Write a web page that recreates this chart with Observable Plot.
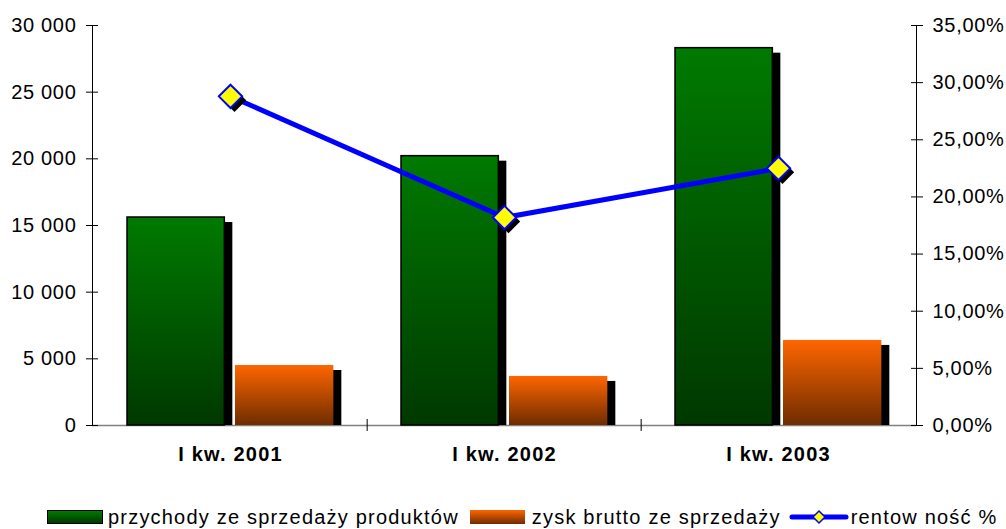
<!DOCTYPE html>
<html><head><meta charset="utf-8">
<script src="https://cdn.jsdelivr.net/npm/d3@7"></script>
<script src="https://cdn.jsdelivr.net/npm/@observablehq/plot@0.6"></script>
<style>
html,body{margin:0;padding:0;background:#fff;}
#wrap{position:relative;width:1006px;height:529px;overflow:hidden;font-family:"Liberation Sans",Arial,sans-serif;}
#legend{position:absolute;left:47px;top:507px;height:20px;display:flex;align-items:center;font-size:20px;letter-spacing:1.2px;color:#000;white-space:nowrap;line-height:20px;}
.sw{display:inline-block;height:14px;box-sizing:border-box;}
.sw.green{width:56px;background:linear-gradient(#007A00,#003800);border:1.5px solid #000;}
.sw.orange{width:55px;background:linear-gradient(#FF6600,#6E2C00);}
</style></head><body>
<div id="wrap"><div id="chart"></div><div id="legend"></div></div>
<script>
const categories = ["I kw. 2001", "I kw. 2002", "I kw. 2003"];
const revenue = [15600, 20200, 28300];
const grossProfit = [4500, 3680, 6380];
const profitability = [28.8, 18.2, 22.5];
const leftTicks = [0, 5000, 10000, 15000, 20000, 25000, 30000];
const rightTicks = [0, 5, 10, 15, 20, 25, 30, 35];
const seriesNames = ["przychody ze sprzedaży produktów", "zysk brutto ze sprzedaży", "rentow ność %"];

const yMax = 30000, pMax = 35;
const k = yMax / pMax;
const rows = categories.map((c, i) => ({category: c, revenue: revenue[i], profit: grossProfit[i], rent: profitability[i] * k}));
const W = 1006, H = 500, mL = 92, mR = 90, mT = 25, mB = 75;
const bw = (W - mL - mR) / categories.length;
const fmtLeft = v => d3.format(",")(v).replace(/,/g, " ");
const fmtRight = v => (v / k).toFixed(2).replace(".", ",") + "%";

function defs() {
  const d = d3.create("svg:defs");
  const g = d.append("linearGradient").attr("id", "gGreen").attr("x1", 0).attr("y1", 0).attr("x2", 0).attr("y2", 1);
  g.append("stop").attr("offset", "0%").attr("stop-color", "#007A00");
  g.append("stop").attr("offset", "100%").attr("stop-color", "#003800");
  const o = d.append("linearGradient").attr("id", "gOrange").attr("x1", 0).attr("y1", 0).attr("x2", 0).attr("y2", 1);
  o.append("stop").attr("offset", "0%").attr("stop-color", "#FF6600");
  o.append("stop").attr("offset", "100%").attr("stop-color", "#6E2C00");
  return d.node();
}

const chart = Plot.plot({
  width: W, height: H,
  marginLeft: mL, marginRight: mR, marginTop: mT, marginBottom: mB,
  x: {type: "band", domain: categories, padding: 0},
  y: {domain: [0, yMax]},
  style: {fontFamily: "'Liberation Sans', Arial, sans-serif", fontSize: "20px", color: "#000", background: "#fff", overflow: "visible", letterSpacing: "0.7px"},
  marks: [
    defs,
    Plot.ruleY([0], {stroke: "#808080", strokeWidth: 1.5}),
    Plot.ruleX(categories.slice(1), {x: d => d, dx: -bw / 2, y1: -450, y2: 450, stroke: "#000"}),
    Plot.frame({anchor: "left", stroke: "#000"}),
    Plot.frame({anchor: "right", stroke: "#000"}),
    Plot.axisY({anchor: "left", ticks: leftTicks, tickSize: 12, dx: 6, tickFormat: () => "", label: null}),
    Plot.axisY({anchor: "left", ticks: leftTicks, tickSize: 0, tickPadding: 16, tickFormat: fmtLeft, label: null}),
    Plot.axisY({anchor: "right", ticks: rightTicks.map(p => p * k), tickSize: 12, dx: -6, tickFormat: () => "", label: null}),
    Plot.axisY({anchor: "right", ticks: rightTicks.map(p => p * k), tickSize: 0, tickPadding: 16, tickFormat: fmtRight, label: null}),
    Plot.axisX({anchor: "bottom", tickSize: 0, tickPadding: 21, fontWeight: "bold", label: null, style: {letterSpacing: "1.2px"}}),
    Plot.barY(rows, {x: "category", y: "revenue", fill: "#000", insetLeft: 34, insetRight: bw - 132, dx: 8, insetTop: 5}),
    Plot.barY(rows, {x: "category", y: "profit", fill: "#000", insetLeft: 142, insetRight: bw - 241, dx: 8, insetTop: 5}),
    Plot.barY(rows, {x: "category", y: "revenue", fill: "url(#gGreen)", stroke: "#000", strokeWidth: 1.5, insetLeft: 34, insetRight: bw - 132}),
    Plot.barY(rows, {x: "category", y: "profit", fill: "url(#gOrange)", insetLeft: 142, insetRight: bw - 241}),
    Plot.line(rows, {x: "category", y: "rent", stroke: "#0000FF", strokeWidth: 5}),
    Plot.dot(rows, {x: "category", y: "rent", symbol: "diamond2", r: 10.5, fill: "#000", dx: 4, dy: 4}),
    Plot.dot(rows, {x: "category", y: "rent", symbol: "diamond2", r: 10.5, fill: "#FFFF00", stroke: "#0000FF", strokeWidth: 2})
  ]
});
document.getElementById("chart").appendChild(chart);
chart.querySelectorAll("g[aria-label='x-axis tick label'] text").forEach(t => t.style.letterSpacing = "1.2px");

const legend = document.getElementById("legend");
legend.innerHTML =
  `<span class="sw green"></span><span style="margin-left:5px">${seriesNames[0]}</span>` +
  `<span class="sw orange" style="margin-left:11px"></span><span style="margin-left:7px">${seriesNames[1]}</span>` +
  `<svg width="60" height="16" style="margin-left:8px"><line x1="3" y1="8" x2="57" y2="8" stroke="#0000FF" stroke-width="5" stroke-linecap="round"/><path d="M30,2 L36,8 L30,14 L24,8 Z" fill="#FFFF00" stroke="#0000FF" stroke-width="1.5"/></svg>` +
  `<span style="margin-left:2px">${seriesNames[2]}</span>`;
</script>
</body></html>
